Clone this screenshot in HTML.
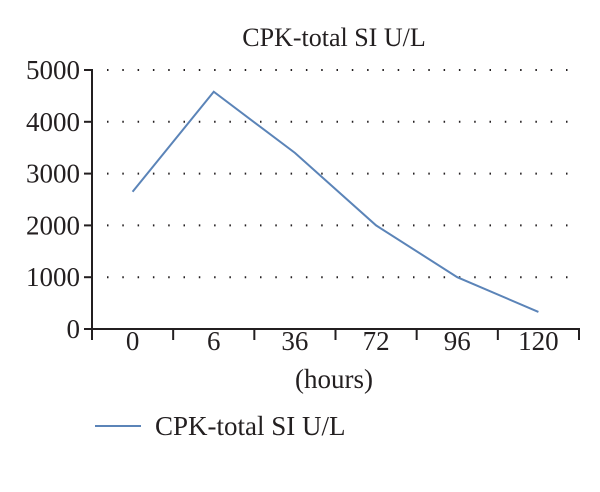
<!DOCTYPE html>
<html><head><meta charset="utf-8"><style>
html,body{margin:0;padding:0;background:#fff;}
svg{display:block;font-family:"Liberation Serif",serif;}
</style></head><body>
<svg width="600" height="492" viewBox="0 0 600 492">
<text x="334" y="46" text-anchor="middle" font-size="26" fill="#231f20">CPK-total SI U/L</text>
<g id="grid"></g>
<g id="axes"></g>
<g id="series"></g>
<text x="334" y="388" text-anchor="middle" font-size="27" fill="#231f20">(hours)</text>
<line x1="95" y1="426" x2="141" y2="426" stroke="#5b84b8" stroke-width="2"/>
<text x="155" y="435" font-size="27" fill="#231f20">CPK-total SI U/L</text>
</svg>
<script>
const categories=["0","6","36","72","96","120"];
const values=[2650,4580,3400,2000,1000,330];
const yTicks=[0,1000,2000,3000,4000,5000];
const NS="http://www.w3.org/2000/svg";
const X0=92,X1=579,Y0=329,Y1=70,YMAX=5000;
const bw=(X1-X0)/categories.length;
function xs(i){return X0+bw*(i+0.5);}
function ys(v){return Y0-(v/YMAX)*(Y0-Y1);}
function mk(t,a,p){const e=document.createElementNS(NS,t);for(const k in a)e.setAttribute(k,a[k]);p.appendChild(e);return e;}
const grid=document.getElementById('grid'),axes=document.getElementById('axes'),series=document.getElementById('series');
yTicks.forEach(v=>{
  const y=ys(v);
  if(v>0){
    const g=mk('line',{x1:107,y1:y,x2:572,y2:y,stroke:'#231f20','stroke-width':2,'stroke-dasharray':'1.5 13.8','stroke-linecap':'butt'},grid);
    
    
  }
  const t=mk('line',{x1:X0-8,y1:y,x2:X0,y2:y,stroke:'#231f20','stroke-width':2},axes);
  
  
  const l=mk('text',{x:X0-12,y:y+9,'text-anchor':'end','font-size':27,fill:'#231f20'},axes);
  l.textContent=v;
  
  
});
const ya=mk('line',{x1:X0,y1:Y1-1,x2:X0,y2:Y0+1,stroke:'#231f20','stroke-width':2},axes);


const xa=mk('line',{x1:X0-8,y1:Y0,x2:X1+1,y2:Y0,stroke:'#231f20','stroke-width':2},axes);


for(let i=0;i<=categories.length;i++){
  const x=X0+bw*i;
  const t=mk('line',{x1:x,y1:Y0,x2:x,y2:Y0+11,stroke:'#231f20','stroke-width':2},axes);
  
  
}
categories.forEach((c,i)=>{
  const l=mk('text',{x:xs(i),y:Y0+21+9,'text-anchor':'middle','font-size':27,fill:'#231f20'},axes);
  l.setAttribute('y',350);
  l.textContent=c;
  
  
});
const pts=values.map((v,i)=>xs(i)+','+ys(v)).join(' ');
const pl=mk('polyline',{points:pts,fill:'none',stroke:'#5b84b8','stroke-width':2},series);


</script>
</body></html>
